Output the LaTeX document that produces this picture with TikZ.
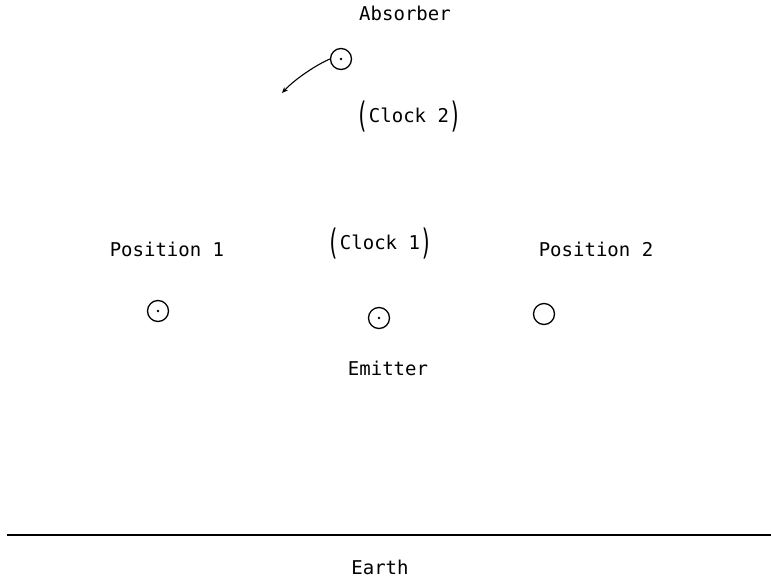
\documentclass[tikz,border=0pt]{standalone}
\usepackage{fontspec}
\setmainfont{DejaVu Sans Mono}
\usepackage{graphicx}
\usepackage{tikz}
\usetikzlibrary{arrows.meta, positioning}
\newcommand{\bigpar}[1]{\raisebox{-0.28em}{\scalebox{1}[1.75]{\fontsize{20}{20}\selectfont #1}}}

\begin{document}
\begin{tikzpicture}[
    x=1pt, y=-1pt,
    lbl/.style={inner sep=1pt, font=\fontsize{19}{21}\selectfont},
    ring/.style={circle, draw, line width=1.3pt, minimum size=21pt, inner sep=0pt},
    dotring/.style={ring, label={[circle, fill, inner sep=1pt]center:}},
    arrow/.style={-{Stealth[length=6pt, width=5pt]}, line width=1.1pt},
    ground/.style={line width=1.3pt}
]
\useasboundingbox (0,0) rectangle (771,581);

% Absorber and its clock
\node[lbl] (abslbl) at (405,13) {Absorber};
\node[dotring] (abs) at (341,59) {};
\node[lbl] (clocktwo) at (409,117) {\bigpar{(}Clock 2\bigpar{)}};
\coordinate (hit) at (282,93);

% Emitter row
\node[lbl] (posone) at (167,249) {Position 1};
\node[lbl] (clockone) at (380,244) {\bigpar{(}Clock 1\bigpar{)}};
\node[lbl] (postwo) at (596,249) {Position 2};
\node[dotring] (pone) at (158,311) {};
\node[dotring] (emit) at (379,318) {};
\node[ring] (ptwo) at (544,314) {};
\node[lbl] (emitlbl) at (388,368) {Emitter};

% Earth
\coordinate (gl) at (7,535);
\coordinate (gr) at (771,535);
\node[lbl] (earth) at (380,567) {Earth};

% Arrows
\draw[arrow] (abs.west) .. controls (318,64) and (296,78) .. (hit);
\draw[ground] (gl) -- (gr);

\end{tikzpicture}
\end{document}
